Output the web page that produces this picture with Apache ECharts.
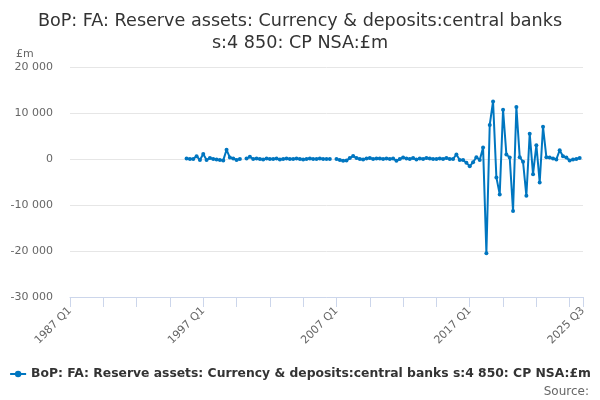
<!DOCTYPE html>
<html><head><meta charset="utf-8">
<script src="https://cdn.jsdelivr.net/npm/echarts@6/dist/echarts.min.js"></script>
<style>html,body{margin:0;padding:0;background:#fff}#c{width:600px;height:400px}</style>
</head><body><div id="c"></div>
<script>
const titleText = 'BoP: FA: Reserve assets: Currency & deposits:central banks\ns:4 850: CP NSA:£m';
const seriesName = 'BoP: FA: Reserve assets: Currency & deposits:central banks s:4 850: CP NSA:£m';
const unitLabel = '£m';
const sourceText = 'Source:';
const firstYear = 1987, lastYear = 2025, lastQuarter = 3;
const yTicks = [-30000, -20000, -10000, 0, 10000, 20000];
const labelYears = ['1987 Q1', '1997 Q1', '2007 Q1', '2017 Q1', '2025 Q3'];

// quarterly values, 1987 Q1 .. 2025 Q3 (null = no data)
const values1987to1995 = [
  null,null,null,null, null,null,null,null, null,null,null,null, null,null,null,null,
  null,null,null,null, null,null,null,null, null,null,null,null, null,null,null,null,
  null,null,null
];
const values1995to1999 = [100, 0, 0, 600, -200, 1100, -200, 200, 0, -100, -200, -300, 2000, 300, 100, -200, 0];
const values2000to2006 = [null, 100, 500, 0, 100, 0, -100, 100, 0, 0, 100, -100, 0, 100, 0, 0, 100, 0, -100, 0, 100, 0, 0, 100, 0, 0, 0];
const values2007to2016 = [null, 0, -200, -400, -300, 200, 650, 200, 0, -100, 100, 200, 0, 100, 100, 0, 100, 0, 100, -400, 0, 300, 100, 0, 200, -100, 100, 0, 200, 100, 0, 0, 100, 0, 200, 0, 0];
const values2016to2025 = [1000, -200, -200, -800, -1600, -700, 400, -200, 2500, -20500, 7400, 12500, -4000, -7700, 10700, 1000, 300, -11300, 11300, 400, -600, -8000, 5500, -3300, 3000, -5100, 7000, 400, 300, 100, -100, 1900, 600, 300, -300, -100, 0, 200];

const categories = [];
for (let y = firstYear; y <= lastYear; y++) {
  for (let q = 1; q <= 4; q++) {
    if (y === lastYear && q > lastQuarter) break;
    categories.push(y + ' Q' + q);
  }
}
const values = [].concat(values1987to1995, values1995to1999, values2000to2006, values2007to2016, values2016to2025);
const lastIdx = categories.length - 1;
const fmt = v => {
  const s = Math.abs(v).toString().replace(/\B(?=(\d{3})+(?!\d))/g, ' ');
  return (v < 0 ? '-' : '') + s;
};

const chart = echarts.init(document.getElementById('c'), null, {renderer: 'canvas'});
chart.setOption({
  animation: false,
  textStyle: {fontFamily: 'DejaVu Sans'},
  title: [{
    text: titleText, left: 'center', top: 5,
    textStyle: {fontSize: 17.6, fontWeight: 'normal', color: '#333', lineHeight: 22, fontFamily: 'DejaVu Sans'}
  }, {
    text: unitLabel, left: 11, top: 44,
    textStyle: {fontSize: 11, fontWeight: 'normal', color: '#666', fontFamily: 'DejaVu Sans'}
  }, {
    text: sourceText, right: 6, top: 381,
    textStyle: {fontSize: 12, fontWeight: 'normal', color: '#666', fontFamily: 'DejaVu Sans'}
  }],
  legend: {
    bottom: 15, left: 'center', itemWidth: 16, itemHeight: 8, itemGap: 6,
    textStyle: {fontSize: 12.35, fontWeight: 'bold', color: '#333', fontFamily: 'DejaVu Sans'},
    data: [seriesName]
  },
  grid: {left: 70, right: 17, top: 67, bottom: 103},
  xAxis: {
    type: 'category', data: categories, boundaryGap: false,
    axisLine: {onZero: false, lineStyle: {color: '#ccd6eb'}},
    axisTick: {length: 10, lineStyle: {color: '#ccd6eb'}, interval: (i) => i % 10 === 0 || i === lastIdx},
    axisLabel: {
      rotate: 45, fontSize: 11, color: '#666', margin: 12,
      interval: (i, v) => labelYears.indexOf(v) >= 0
    },
    splitLine: {show: false}
  },
  yAxis: {
    type: 'value', min: yTicks[0], max: yTicks[yTicks.length - 1], interval: 10000,
    axisLine: {show: false}, axisTick: {show: false},
    axisLabel: {fontSize: 11, color: '#666', margin: 17, formatter: fmt},
    splitLine: {lineStyle: {color: '#e6e6e6'}}
  },
  series: [{
    name: seriesName, type: 'line', data: values, connectNulls: false,
    symbol: 'circle', symbolSize: 4, showSymbol: true, showAllSymbol: true,
    lineStyle: {width: 2, color: '#0076c0'},
    itemStyle: {color: '#0076c0'}
  }]
});
</script>
</body></html>
